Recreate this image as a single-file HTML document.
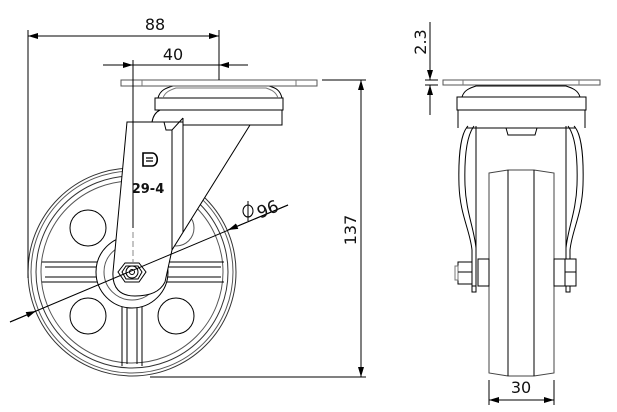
<!DOCTYPE html>
<html><head><meta charset="utf-8"><style>
html,body{margin:0;padding:0;background:#fff;}
svg{display:block;}
text{font-family:"DejaVu Sans","Liberation Sans",sans-serif;fill:#111;}
</style></head><body>
<svg width="617" height="412" viewBox="0 0 617 412" xmlns="http://www.w3.org/2000/svg">
<defs>
<marker id="a" viewBox="0 0 10 6" refX="10" refY="3" markerWidth="10" markerHeight="6" orient="auto-start-reverse" markerUnits="userSpaceOnUse"><path d="M0,0 L10,3 L0,6 z" fill="#000"/></marker>
</defs>
<g fill="none" stroke="#000" stroke-width="1">
<!-- LEFT VIEW wheel -->
<circle cx="132" cy="272" r="104" stroke="#333"/>
<circle cx="132" cy="272" r="101" stroke="#555"/>
<circle cx="132" cy="272" r="96" stroke="#333"/>
<circle cx="132" cy="272" r="91" stroke="#555"/>
<circle cx="88" cy="228" r="18"/>
<circle cx="176" cy="228" r="18" stroke="#555"/>
<circle cx="88" cy="316" r="18"/>
<circle cx="176" cy="316" r="18"/>
<path d="M42,262 H98 M42,282 H98 M45,267 H98 M45,277 H98 M166,262 H224 M166,282 H224 M166,267 H221 M166,277 H221"/>
<path d="M122,306 V366 M142,306 V366 M127,306 V364 M137,306 V364"/>
<circle cx="132" cy="272" r="36" fill="#fff"/>
<circle cx="132" cy="272" r="28" stroke="#555"/>
<!-- swivel -->
<rect x="155" y="98" width="128" height="12"/>
<path d="M158,110 H282 V125 H183"/>
<path d="M158,98 C160,90 166,88 173,86 L269,86 C276,88 280,90 282,98"/>
<path d="M163,98 C165,92 170,90 176,88 L266,88 C272,90 276,92 278,98" stroke="#777"/>
<rect x="121" y="80" width="196" height="6" stroke="#555"/>
<path d="M142,80 V86 M296,80 V86" stroke="#777"/>
<path d="M152,122 C153,116 156,112 160,110"/>
<!-- fork -->
<path d="M127,122 L183,122 L183,125 L250,125 L172,250 L165,282 C160,292 150,296 135,296 C120,296 112,288 113,272 Z" fill="#fff"/>
<path d="M172,130 V250"/>
<path d="M183,118 V232"/>
<path d="M127,122 H164 L166,130 H172 L183,118"/>
<!-- hex nut -->
<polygon points="125,263 139,263 146,272 139,282 125,282 118,272" fill="#fff"/>
<polygon points="126,266 138,266 142,272 138,279 126,279 122,272"/>
<circle cx="132" cy="272" r="6"/>
<circle cx="132" cy="272" r="2.5"/>
<!-- center line -->
<path d="M133,60 V228" />
<path d="M133,232 V262" stroke-dasharray="6,3" stroke="#888"/>
<!-- dims -->
<path d="M28,30 V278"/>
<path d="M219,30 V80"/>
<path d="M28,36 H219" marker-start="url(#a)" marker-end="url(#a)"/>
<path d="M103,65 H133" marker-end="url(#a)"/>
<path d="M248,65 H219" marker-end="url(#a)"/>
<path d="M133,65 H219"/>
<path d="M322,80 H366 M150,377 H366"/>
<path d="M361,80 V377" marker-start="url(#a)" marker-end="url(#a)"/>
<!-- diameter -->
<path d="M10,322 L288,205"/>
<path d="M10,322 L36,311" marker-end="url(#a)"/>
<path d="M288,205 L228,230" marker-end="url(#a)"/>
<path d="M248,201 V221"/>
<ellipse cx="248" cy="211" rx="5" ry="6"/>
<!-- logo -->
<path d="M143,153 H152 C159,153 159,166 152,166 H143 Z" stroke-width="1.6"/>
<path d="M146,158 H153 M146,161 H153" stroke-width="1.3"/>

<!-- RIGHT VIEW -->
<rect x="443" y="80" width="157" height="5" stroke="#555"/>
<path d="M463,80 V85 M579,80 V85" stroke="#777"/>
<path d="M462,97 C464,90 470,88 476,86 L566,86 C572,88 578,90 580,97"/>
<rect x="457" y="97" width="129" height="13"/>
<path d="M458,110 V128 M585,110 V128"/>
<path d="M466,128 H576"/>
<path d="M506,128 L508,135 H535 L537,128"/>
<!-- fork legs -->
<path d="M468,126 C462,132 458,150 459,185 C460,215 470,230 472,250 V292"/>
<path d="M474,126 C468,134 464,152 465,185 C466,212 474,228 476,248 V292"/>
<path d="M476,126 V250"/>
<path d="M574,126 C580,132 584,150 583,185 C582,215 572,230 570,250 V292"/>
<path d="M568,126 C574,134 578,152 577,185 C576,212 568,228 566,248 V292"/>
<path d="M566,126 V250"/>
<!-- wheel -->
<path d="M489,173 L508,170 H534 L554,173 V373 L534,376 H508 L489,373 Z" fill="#fff" stroke="#444"/>
<path d="M508,170 V376 M534,170 V376"/>
<!-- axle -->
<rect x="478" y="259" width="11" height="27"/>
<rect x="554" y="259" width="11" height="27"/>
<rect x="565" y="259" width="11" height="27" fill="#fff"/>
<path d="M565,272 H576"/>
<rect x="458" y="262" width="14" height="22" fill="#fff"/>
<rect x="455" y="266" width="3" height="14" stroke="#777"/>
<path d="M458,272 H472"/>
<rect x="472" y="286" width="4" height="6"/>
<rect x="566" y="286" width="4" height="6"/>
<!-- dims -->
<path d="M430,22 V80" marker-end="url(#a)"/>
<path d="M430,115 V85" marker-end="url(#a)"/>
<path d="M425,80 H438 M425,85 H438"/>
<path d="M489,380 V405 M554,380 V405"/>
<path d="M489,400 H554" marker-start="url(#a)" marker-end="url(#a)"/>
</g>
<text x="155" y="30" font-size="16" text-anchor="middle">88</text>
<text x="173" y="60" font-size="16" text-anchor="middle">40</text>
<text x="148" y="193" font-size="13" font-weight="bold" text-anchor="middle">29-4</text>
<text x="268" y="215" font-size="17" text-anchor="middle" transform="rotate(-22 268 210)">96</text>
<text font-size="16" text-anchor="middle" transform="translate(356 230) rotate(-90)">137</text>
<text font-size="16" text-anchor="middle" transform="translate(426 42) rotate(-90)">2.3</text>
<text x="521" y="393" font-size="16" text-anchor="middle">30</text>
</svg>
</body></html>
